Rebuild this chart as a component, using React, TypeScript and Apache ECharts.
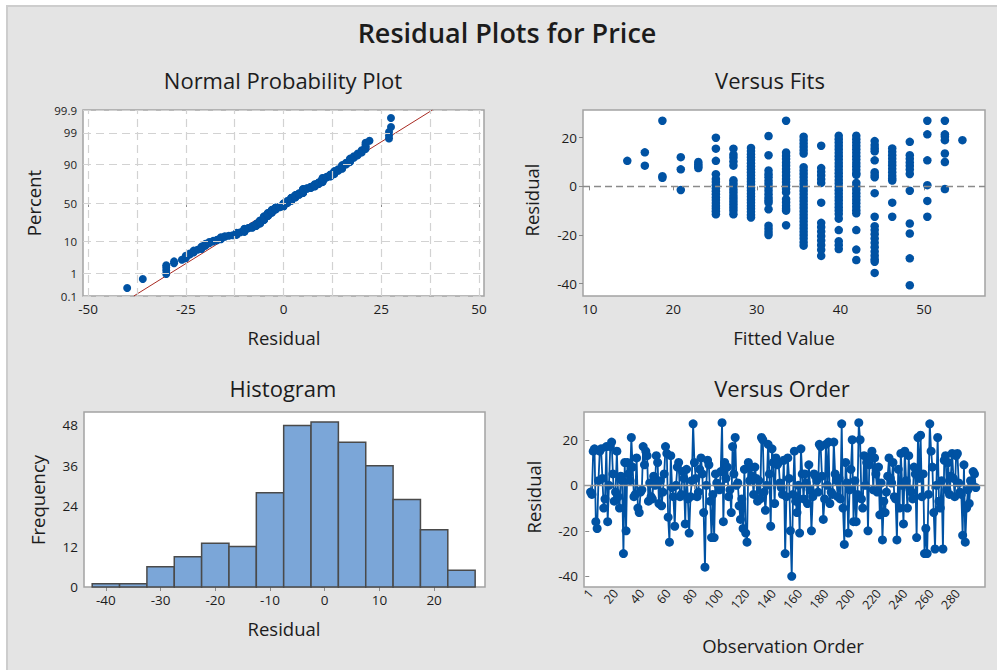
import React, { useEffect, useRef } from "react";
import * as echarts from "echarts";

// ---------- data ----------
const orderResiduals: number[] = [
  -3, -4, 15, 16, -16, -19, 2, 15, 16, 3, -10, -6, 17, -16, 0, 17, 19, 5, -7, -3, 15, -5, -10, 4, 2,
  -30, 10, -20, 10, 5, 2, 21, 8, -5, -4, 12, -10, -12, -3, -2, 17, 9, 15, 13, -7, 1, -5, -6, 4, 0,
  13, 10, -8, 2, -9, -3, 5, 17, 14, -14, -25, 13, -1, -5, -18, 0, 8, 10, -5, -4, 6, 3, -17, 7, -6,
  -21, -5, 2, 27, 10, 3, -5, -3, 7, 12, 5, -12, -36, 0, 11, 9, -7, -23, -4, -23, 5, 1, 0, -2, 6,
  27.5, -16, 10, 3, 8, -5, -2, -12, 17, 5, 21, 0, 1, -9, -15, -6, -19, 7, -21, -25, 10, 2, 8, 4, -4,
  8, 3, -7, 2, -6, 21, 20, -3, -11, 0, 18, 5, -18, 16, 10, -8, 12, 9, 10, 1, -1, -4, 11, -30, -5,
  12, 3, -20, -40, -4, 15, -7, -12, 0, -21, 16, 5, -6, 5, 1, -8, 9, -2, -20, -5, 5, 4, 2, -3, 18,
  17, 4, -15, -6, 18, 0, 19, -8, -3, -4, 19, 5, 2, -5, 3, -6, 27, -10, -26, 10, 1, -21, -2, 7, 20,
  -16, 2, -16, -4, 27.5, 20, -6, -10, 13, 0, 10, -20, 9, 13, 15, -2, 12, 5, -3, 8, -13, 1, -24, -7, -12,
  -3, 4, 12, 3, 1, 10, -5, -6, -24, 7, -10, 14, 0, -17, 15, 2, -10, 13, -2, -3, -6, 8, 5, -23, 21,
  3, 22, -5, 5, -30, -19, -30, -4, 27, 15, 8, -12, -28, 0, 21, -7, -10, 2, -28, 11, 13, -2, 10, -4, 4,
  14, 3, -5, 13, 14, 1, -3, -4, -22, 9, -25, -10, -2, -8, 2, 0, 6, 5, -1,
];

const histCenters = [-40, -35, -30, -25, -20, -15, -10, -5, 0, 5, 10, 15, 20, 25];
const histCounts = [1, 1, 6, 9, 13, 12, 28, 48, 49, 43, 36, 26, 17, 5];
const histBinWidth = 5;

const fittedColumns = [14.5, 16.6, 18.7, 20.9, 23.0, 25.1, 27.2, 29.3, 31.4, 33.5, 35.6, 37.7, 39.8, 41.9, 44.1, 46.2, 48.3, 50.4, 52.5, 54.6];
const fitResiduals: number[][] = [
  [10.5],
  [14, 8.5],
  [27, 4.2, 3.5],
  [12, 7, -1.5],
  [10, 9, 8.2, 7.5],
  [20, 15.5, 10.5, 5, 3, 1.8, 0.5, -0.8, -2, -3.2, -4.5, -5.6, -6.8, -8, -9.1, -10.2, -11.5],
  [15.5, 13, 11.8, 10.2, 8.5, 2.5, 1.2, 0, -1.4, -2.6, -3.9, -5.1, -6.3, -7.5, -8.8, -10, -11.5],
  [15.8, 14.5, 13.2, 12, 10.8, 9.5, 8.3, 7, 5.8, 4.5, 3.2, 2, 0.8, -0.5, -1.7, -3, -4.2, -5.5, -6.7, -8, -9.2, -10.5, -11.7, -12.8],
  [20.7, 12.8, 6.5, 5, 3.7, 2.3, 1, -0.4, -1.8, -3.2, -4.6, -5.8, -6.7, -9.4, -16.2, -17.5, -18.8, -20],
  [27, 13.9, 12.5, 11.2, 9.8, 8.5, 7.1, 5.8, 4.4, 3, 1.7, 0.3, -1.1, -2.5, -5.3, -6.6, -8, -9.2, -10, -16],
  [20.4, 19, 17.6, 16.2, 14.8, 13.5, 7.9, 6.5, 5.1, 3.7, 2.3, 0.9, -0.5, -1.9, -3.3, -4.7, -6.1, -7.5, -8.9, -10.3, -11.7, -13.1, -14.5, -15.9, -17.3, -18.7, -20.1, -21.5, -23, -24.4],
  [16.7, 7.5, 6, 4.5, 2.9, 1.4, -6.7, -15, -16.8, -18.6, -20.5, -22.3, -24.2, -26.1, -28.6],
  [20.8, 19.4, 18, 16.6, 15.2, 13.8, 12.4, 11, 9.6, 8.2, 6.8, 5.4, 4, 2.6, 1.2, -0.2, -1.6, -3, -4.4, -5.8, -7.2, -8.6, -10, -11.4, -13.3, -18, -22.6, -24.2, -25.8],
  [20.8, 19.4, 18, 16.6, 15.2, 13.8, 12.4, 11, 9.6, 8.2, 6.8, 5.4, 4.7, 1.4, 0, -1.4, -2.8, -4.2, -5.6, -7, -8.4, -9.8, -11.1, -18, -26, -30.3],
  [18.6, 17, 15.6, 14.4, 10.7, 5.8, 4.7, 3.75, -2.8, -12.5, -16.4, -18, -19.7, -21.5, -23.2, -25, -26.8, -28.5, -30, -31, -35.6],
  [15.6, 14.2, 12.8, 11.4, 10, 8.6, 7.2, 5.8, 4.4, 3.2, 2.4, -6.7, -12.5],
  [18.3, 12.8, 11.3, 9.8, 8.4, 6.9, 5.1, -1.8, -15.3, -19.4, -29.6, -40.7],
  [27, 21.4, 10.7, 0.5, -6, -12.5],
  [27, 21.4, 20.4, 19, 13.5, 10, -1.1],
  [19],
];

const percentTicks = [0.1, 1, 10, 50, 90, 99, 99.9];
const normalFitLine = [-38.3, 38.1]; // residual at 0.1% and 99.9%
const residualTicks = [-50, -25, 0, 25, 50];
const residualGrid = [-50, -37.5, -25, -12.5, 0, 12.5, 25, 37.5, 50];
const fitTicks = [10, 20, 30, 40, 50];
const fitResidTicks = [-40, -20, 0, 20];
const histXTicks = [-40, -30, -20, -10, 0, 10, 20];
const histYTicks = [0, 12, 24, 36, 48];
const orderTicks = [1, 20, 40, 60, 80, 100, 120, 140, 160, 180, 200, 220, 240, 260, 280];
const orderResidTicks = [-40, -20, 0, 20];

// inverse standard normal CDF (probability-scale transform)
function invNorm(p: number): number {
  const a = [-3.969683028665376e1, 2.209460984245205e2, -2.759285104469687e2, 1.38357751867269e2, -3.066479806614716e1, 2.506628277459239];
  const b = [-5.447609879822406e1, 1.615858368580409e2, -1.556989798598866e2, 6.680131188771972e1, -1.328068155288572e1];
  const c = [-7.784894002430293e-3, -3.223964580411365e-1, -2.400758277161838, -2.549732539343734, 4.374664141464968, 2.938163982698783];
  const d = [7.784695709041462e-3, 3.224671290700398e-1, 2.445134137142996, 3.754408661907416];
  const pl = 0.02425;
  if (p < pl) {
    const q = Math.sqrt(-2 * Math.log(p));
    return (((((c[0] * q + c[1]) * q + c[2]) * q + c[3]) * q + c[4]) * q + c[5]) / ((((d[0] * q + d[1]) * q + d[2]) * q + d[3]) * q + 1);
  }
  if (p <= 1 - pl) {
    const q = p - 0.5;
    const r = q * q;
    return ((((((a[0] * r + a[1]) * r + a[2]) * r + a[3]) * r + a[4]) * r + a[5]) * q) / (((((b[0] * r + b[1]) * r + b[2]) * r + b[3]) * r + b[4]) * r + 1);
  }
  const q = Math.sqrt(-2 * Math.log(1 - p));
  return -(((((c[0] * q + c[1]) * q + c[2]) * q + c[3]) * q + c[4]) * q + c[5]) / ((((d[0] * q + d[1]) * q + d[2]) * q + d[3]) * q + 1);
}

const FONT = "'Open Sans', 'Noto Sans', sans-serif";
const BLUE = "#0052a3";
const TXT = "#1c1c1c";

export default function App() {
  const ref = useRef<HTMLDivElement>(null);

  useEffect(() => {
    if (!ref.current) return;
    const chart = echarts.init(ref.current, undefined, { renderer: "svg" });

    const n = orderResiduals.length;
    const sorted = [...orderResiduals].sort((x, y) => x - y);
    const normalData = sorted.map((v, i) => [v, invNorm((i + 1 - 0.3) / (n + 0.4))]);
    const zTicks = percentTicks.map((p) => invNorm(p / 100));
    const zMin = zTicks[0];
    const zMax = zTicks[zTicks.length - 1];

    const fitsData: number[][] = [];
    fittedColumns.forEach((f, i) => fitResiduals[i].forEach((r) => fitsData.push([f, r])));

    const labelStyle = { color: TXT, fontSize: 13.5, fontFamily: FONT };
    const valueAxis = (gridIndex: number, min: number, max: number, ticks: number[], extra: any = {}) => ({
      type: "value",
      gridIndex,
      min,
      max,
      axisLine: { show: false },
      axisTick: { show: true, customValues: ticks, length: 4, lineStyle: { color: "#8a8a8a", width: 1 } },
      axisLabel: { ...labelStyle, customValues: ticks, margin: 6, ...(extra.axisLabel || {}) },
      splitLine: { show: false },
    });

    const gridBase = { show: true, backgroundColor: "#ffffff", borderColor: "#a3a3a3", borderWidth: 1.5 };

    const text = (t: string, x: number, y: number, size: number, opts: any = {}) => ({
      type: "text",
      x,
      y,
      rotation: opts.rot || 0,
      z: 100,
      style: {
        text: t,
        fontSize: size,
        fontWeight: opts.weight || "normal",
        fontFamily: FONT,
        fill: TXT,
        align: "center",
        verticalAlign: "middle",
      },
    });

    const option: any = {
      animation: false,
      backgroundColor: "transparent",
      graphic: [
        text("Residual Plots for Price", 507, 32, 27, { weight: 600 }),
        text("Normal Probability Plot", 283, 80, 22),
        text("Versus Fits", 770, 80, 22),
        text("Histogram", 283, 388, 22),
        text("Versus Order", 782, 388, 22),
        text("Residual", 284, 337, 18.5),
        text("Percent", 33, 203, 18.5, { rot: Math.PI / 2 }),
        text("Fitted Value", 784, 337, 18.5),
        text("Residual", 531, 200, 18.5, { rot: Math.PI / 2 }),
        text("Residual", 284, 628, 18.5),
        text("Frequency", 37, 500, 18.5, { rot: Math.PI / 2 }),
        text("Observation Order", 783, 645, 18.5),
        text("Residual", 533, 497, 18.5, { rot: Math.PI / 2 }),
      ],
      grid: [
        { ...gridBase, left: 83, top: 110, width: 401, height: 186 },
        { ...gridBase, left: 583, top: 110, width: 402, height: 186 },
        { ...gridBase, left: 84, top: 412, width: 401, height: 175 },
        { ...gridBase, left: 584, top: 412, width: 401, height: 175 },
      ],
      xAxis: [
        valueAxis(0, -51.3, 51.3, residualTicks),
        valueAxis(1, 9.2, 57.3, fitTicks),
        valueAxis(2, -44, 29.3, histXTicks),
        valueAxis(3, -4, 301, orderTicks, { axisLabel: { rotate: 50, margin: 4, fontSize: 12.5 } }),
      ],
      yAxis: [
        {
          ...valueAxis(0, zMin, zMax, zTicks),
          axisLabel: {
            ...labelStyle,
            fontSize: 11.5,
            customValues: zTicks,
            margin: 6,
            formatter: (v: number) => {
              let best = 0;
              zTicks.forEach((z, i) => {
                if (Math.abs(z - v) < Math.abs(zTicks[best] - v)) best = i;
              });
              return String(percentTicks[best]);
            },
          },
        },
        valueAxis(1, -45.1, 31.4, fitResidTicks),
        valueAxis(2, 0, 52, histYTicks),
        valueAxis(3, -44.7, 32.2, orderResidTicks),
      ],
      series: [
        // normal plot gridlines
        {
          type: "scatter",
          xAxisIndex: 0,
          yAxisIndex: 0,
          data: [],
          z: 1,
          silent: true,
          markLine: {
            silent: true,
            symbol: "none",
            label: { show: false },
            lineStyle: { color: "#d2d2d2", type: [8, 5], width: 1.2 },
            data: [
              ...residualGrid.map((x) => ({ xAxis: x })),
              ...zTicks.map((z) => ({ yAxis: z })),
            ],
          },
        },
        {
          type: "line",
          xAxisIndex: 0,
          yAxisIndex: 0,
          data: [
            [normalFitLine[0], zMin],
            [normalFitLine[1], zMax],
          ],
          showSymbol: false,
          symbol: "none",
          z: 3,
          lineStyle: { color: "#a82a22", width: 1 },
          silent: true,
        },
        {
          type: "scatter",
          xAxisIndex: 0,
          yAxisIndex: 0,
          data: normalData,
          symbolSize: 8,
          z: 4,
          itemStyle: { color: BLUE, opacity: 1 },
        },
        // versus fits
        {
          type: "scatter",
          xAxisIndex: 1,
          yAxisIndex: 1,
          data: [],
          z: 1,
          silent: true,
          markLine: {
            silent: true,
            symbol: "none",
            label: { show: false },
            lineStyle: { color: "#8a8a8a", type: [7, 4], width: 1.3 },
            data: [{ yAxis: 0 }],
          },
        },
        {
          type: "scatter",
          xAxisIndex: 1,
          yAxisIndex: 1,
          data: fitsData,
          symbolSize: 8.5,
          z: 4,
          itemStyle: { color: BLUE, opacity: 1 },
        },
        // histogram
        {
          type: "custom",
          xAxisIndex: 2,
          yAxisIndex: 2,
          data: histCenters.map((c, i) => [c - histBinWidth / 2, c + histBinWidth / 2, histCounts[i]]),
          encode: { x: [0, 1], y: 2 },
          renderItem: (params: any, api: any) => {
            const p0 = api.coord([api.value(0), api.value(2)]);
            const p1 = api.coord([api.value(1), 0]);
            return {
              type: "rect",
              shape: { x: p0[0], y: p0[1], width: p1[0] - p0[0], height: p1[1] - p0[1] },
              style: { fill: "#7ba6d8", stroke: "#4a4a4a", lineWidth: 1.5 },
            };
          },
        },
        // versus order
        {
          type: "scatter",
          xAxisIndex: 3,
          yAxisIndex: 3,
          data: [],
          z: 1,
          silent: true,
          markLine: {
            silent: true,
            symbol: "none",
            label: { show: false },
            lineStyle: { color: "#9a9a9a", type: "solid", width: 1.3 },
            data: [{ yAxis: 0 }],
          },
        },
        {
          type: "line",
          xAxisIndex: 3,
          yAxisIndex: 3,
          data: orderResiduals.map((v, i) => [i + 1, v]),
          symbol: "circle",
          symbolSize: 9,
          showSymbol: true,
          z: 4,
          lineStyle: { color: BLUE, width: 1.8 },
          itemStyle: { color: BLUE, opacity: 1, borderWidth: 0 },
        },
      ],
    };

    chart.setOption(option);
    return () => chart.dispose();
  }, []);

  return (
    <div style={{ position: "absolute", left: 0, top: 0, width: 997, height: 670, background: "#ffffff", overflow: "hidden" }}>
      <div
        style={{
          position: "absolute",
          left: 6,
          top: 5,
          width: 1000,
          height: 700,
          background: "#e4e4e4",
          borderLeft: "2px solid #cdcdcd",
          borderTop: "2px solid #cdcdcd",
        }}
      />
      <div ref={ref} style={{ position: "absolute", left: 0, top: 0, width: 997, height: 670 }} />
    </div>
  );
}
